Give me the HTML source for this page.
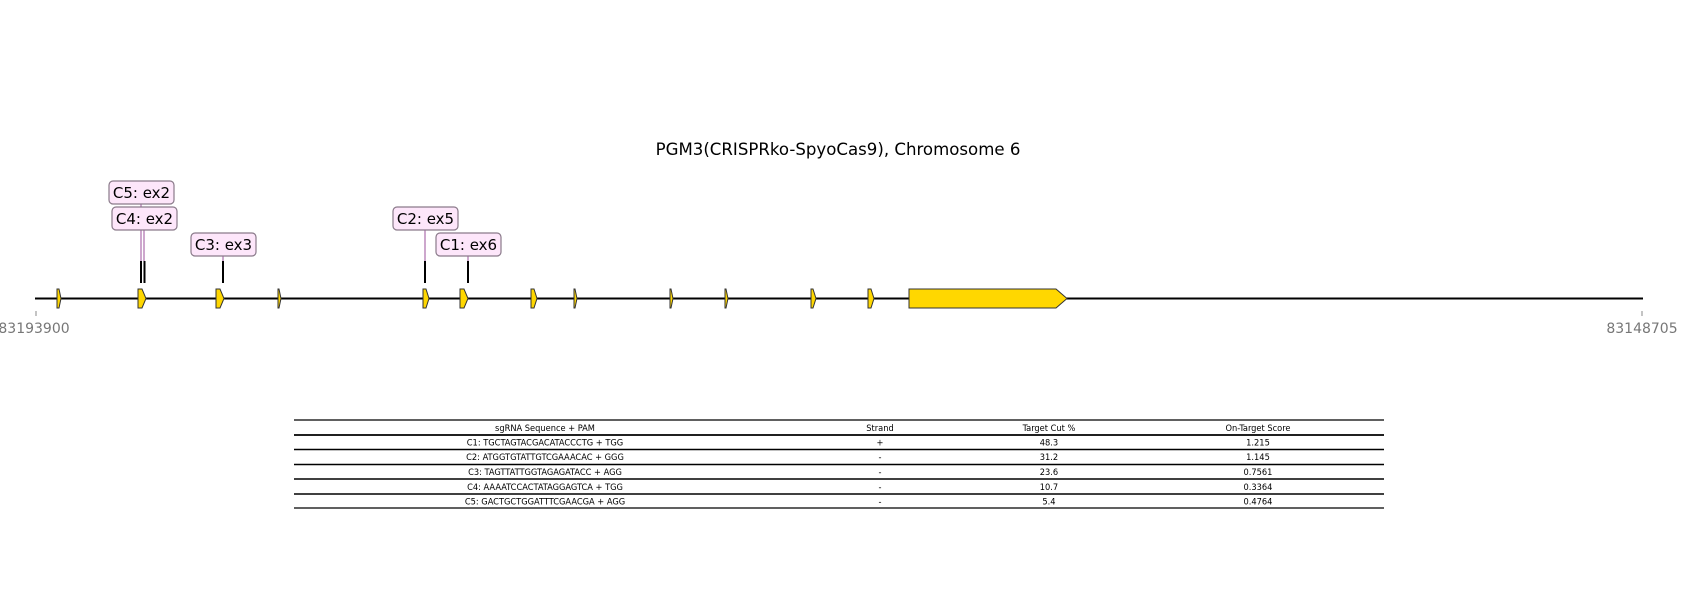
<!DOCTYPE html>
<html><head><meta charset="utf-8"><style>
html,body{margin:0;padding:0;background:#fff;}
svg{display:block;font-family:"DejaVu Sans","Liberation Sans",sans-serif;}
</style></head><body>
<svg width="1700" height="600" viewBox="0 0 1700 600" xmlns="http://www.w3.org/2000/svg">
<text x="838" y="155" font-size="16.6" text-anchor="middle" fill="#000">PGM3(CRISPRko-SpyoCas9), Chromosome 6</text>
<!-- axis -->
<line x1="35" y1="298.5" x2="1643" y2="298.5" stroke="#000" stroke-width="2"/>
<line x1="36" y1="311" x2="36" y2="316" stroke="#888" stroke-width="1"/>
<line x1="1642" y1="311" x2="1642" y2="316" stroke="#888" stroke-width="1"/>
<text x="34" y="333" font-size="14" fill="#777" text-anchor="middle">83193900</text>
<text x="1642" y="333" font-size="14" fill="#777" text-anchor="middle">83148705</text>
<!-- exons -->
<g fill="#ffd700" stroke="#333" stroke-width="1">
<path d="M57,289 L59,289 L61,298.5 L59,308 L57,308 Z"/>
<path d="M138,289 L142,289 L146,298.5 L142,308 L138,308 Z"/>
<path d="M216,289 L220,289 L224,298.5 L220,308 L216,308 Z"/>
<path d="M278,289 L279,289 L281,298.5 L279,308 L278,308 Z"/>
<path d="M423,289 L426,289 L429,298.5 L426,308 L423,308 Z"/>
<path d="M460,289 L464,289 L468,298.5 L464,308 L460,308 Z"/>
<path d="M531,289 L534,289 L537,298.5 L534,308 L531,308 Z"/>
<path d="M574,289 L575,289 L577,298.5 L575,308 L574,308 Z"/>
<path d="M670,289 L671,289 L673,298.5 L671,308 L670,308 Z"/>
<path d="M725,289 L726,289 L728,298.5 L726,308 L725,308 Z"/>
<path d="M811,289 L813,289 L816,298.5 L813,308 L811,308 Z"/>
<path d="M868,289 L871,289 L874,298.5 L871,308 L868,308 Z"/>
<path d="M909,289 L1056,289 L1067,298.5 L1056,308 L909,308 Z"/>
</g>
<!-- connectors -->
<g stroke="#9b4f9b" stroke-width="1">
<line x1="141" y1="203" x2="141" y2="262"/>
<line x1="144" y1="230" x2="144" y2="262"/>
<line x1="223" y1="256" x2="223" y2="262"/>
<line x1="425" y1="230" x2="425" y2="262"/>
<line x1="468" y1="256" x2="468" y2="262"/>
</g>
<g stroke="#000" stroke-width="2">
<line x1="141" y1="261" x2="141" y2="283"/>
<line x1="144.5" y1="261" x2="144.5" y2="283"/>
<line x1="223" y1="261" x2="223" y2="283"/>
<line x1="425" y1="261" x2="425" y2="283"/>
<line x1="468" y1="261" x2="468" y2="283"/>
</g>
<g fill="#fde6fa" stroke="#8a7a8a" stroke-width="1.2">
<rect x="109" y="181" width="65" height="23" rx="4"/>
<rect x="112" y="207" width="65" height="23" rx="4"/>
<rect x="191" y="233" width="65" height="23" rx="4"/>
<rect x="393" y="207" width="65" height="23" rx="4"/>
<rect x="436" y="233" width="65" height="23" rx="4"/>
</g>
<g font-size="15" text-anchor="middle" fill="#000">
<text x="141.5" y="198">C5: ex2</text>
<text x="144.5" y="224">C4: ex2</text>
<text x="223.5" y="250">C3: ex3</text>
<text x="425.5" y="224">C2: ex5</text>
<text x="468.5" y="250">C1: ex6</text>
</g>
<!-- table -->
<g stroke="#000">
<line x1="294" y1="420" x2="1384" y2="420" stroke-width="1.2"/>
<line x1="294" y1="435" x2="1384" y2="435" stroke-width="1.8"/>
<line x1="294" y1="449.5" x2="1384" y2="449.5" stroke-width="1.5"/>
<line x1="294" y1="464.5" x2="1384" y2="464.5" stroke-width="1.5"/>
<line x1="294" y1="479" x2="1384" y2="479" stroke-width="1.5"/>
<line x1="294" y1="494" x2="1384" y2="494" stroke-width="1.5"/>
<line x1="294" y1="508" x2="1384" y2="508" stroke-width="1.2"/>
</g>
<g font-size="9.2" text-anchor="middle" fill="#000" font-family="'DejaVu Sans Condensed','DejaVu Sans',sans-serif">
<text x="545" y="431">sgRNA Sequence + PAM</text>
<text x="880" y="431">Strand</text>
<text x="1049" y="431">Target Cut %</text>
<text x="1258" y="431">On-Target Score</text>
<text x="545" y="445.5">C1: TGCTAGTACGACATACCCTG + TGG</text>
<text x="880" y="445.5">+</text>
<text x="1049" y="445.5">48.3</text>
<text x="1258" y="445.5">1.215</text>
<text x="545" y="460">C2: ATGGTGTATTGTCGAAACAC + GGG</text>
<text x="880" y="460">-</text>
<text x="1049" y="460">31.2</text>
<text x="1258" y="460">1.145</text>
<text x="545" y="475">C3: TAGTTATTGGTAGAGATACC + AGG</text>
<text x="880" y="475">-</text>
<text x="1049" y="475">23.6</text>
<text x="1258" y="475">0.7561</text>
<text x="545" y="490">C4: AAAATCCACTATAGGAGTCA + TGG</text>
<text x="880" y="490">-</text>
<text x="1049" y="490">10.7</text>
<text x="1258" y="490">0.3364</text>
<text x="545" y="504.5">C5: GACTGCTGGATTTCGAACGA + AGG</text>
<text x="880" y="504.5">-</text>
<text x="1049" y="504.5">5.4</text>
<text x="1258" y="504.5">0.4764</text>
</g>
</svg>
</body></html>
